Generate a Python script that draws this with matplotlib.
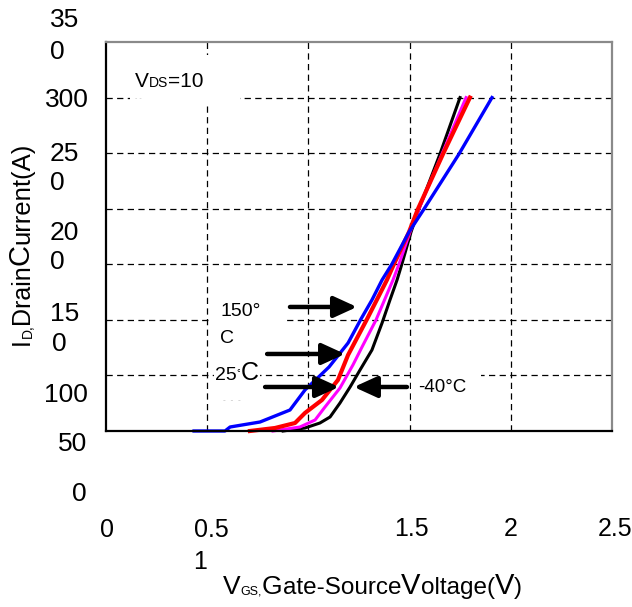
import matplotlib
matplotlib.use("Agg")
import matplotlib.pyplot as plt
from matplotlib.patches import Rectangle

plt.rcParams['font.family'] = ['Liberation Sans', 'DejaVu Sans']

# ─── Data ────────────────────────────────────────────────────────────────────
# transfer curves, ID (A) vs VGS (V), VDS = 10 V
vgs_150 = [0.435, 0.588, 0.613, 0.761, 0.909, 0.983, 1.102, 1.196, 1.260, 1.314,
           1.364, 1.413, 1.497, 1.571, 1.744, 1.907]
id_150 = [0, 0, 3.6, 8.1, 18.9, 36.9, 57.6, 79.2, 100.8, 117.9,
          135.9, 150.3, 179.0, 199.7, 249.2, 300]

vgs_25 = [0.711, 0.835, 0.934, 0.983, 1.067, 1.146, 1.196, 1.290, 1.388, 1.423,
          1.497, 1.541, 1.665, 1.798]
id_25 = [0, 2.7, 7.2, 16.2, 27.9, 45.9, 68.4, 100.8, 135.9, 150.3,
         179.0, 199.7, 249.2, 300]

vgs_mid = [0.825, 0.958, 1.033, 1.082, 1.156, 1.220, 1.265, 1.334, 1.418, 1.448,
           1.502, 1.546, 1.660, 1.779]
id_mid = [0, 3.6, 9.9, 21.6, 38.7, 59.4, 75.6, 99.9, 135.9, 150.3,
          179.0, 199.7, 249.2, 300]

vgs_m40 = [0.875, 0.983, 1.057, 1.107, 1.156, 1.206, 1.255, 1.314, 1.364, 1.403,
           1.438, 1.462, 1.507, 1.546, 1.650, 1.749]
id_m40 = [0, 2.7, 7.2, 12.6, 25.2, 39.6, 54.9, 72.9, 97.2, 117.9,
          135.9, 150.3, 179.0, 199.7, 249.2, 300]

x_grid = [0.5, 1.0, 1.5, 2.0]
y_grid = [50, 100, 150, 200, 250, 300]

# tick labels, as broken up in the original scan
y_labels = ['35', '0', '300', '25', '0', '20', '0', '15', '0', '100', '50', '0']
x_labels = ['0', '0.5', '1', '1.5', '2', '2.5']

# ─── Layout (pixels of the 632x607 picture) ──────────────────────────────────
W, H = 632, 607
y_label_pos = [(50, 27), (50, 59), (45, 107), (50, 161), (50, 190), (50, 240),
               (50, 269), (50, 321), (52, 351), (44, 402), (58, 451), (72, 501)]
x_label_pos = [(107, 537), (211, 537), (200, 569), (411, 536), (511, 536), (615, 536)]


def fx(px):
    return px / W


def fy(py):
    return 1 - py / H


def put_runs(fig, runs, x, y, rotation=0, **kw):
    """Draw text pieces of mixed sizes one after another (pixel coords)."""
    r = fig.canvas.get_renderer()
    for txt, size, shift in runs:
        if rotation == 0:
            t = fig.text(fx(x), fy(y - shift), txt, fontsize=size,
                         ha='left', va='baseline', **kw)
            x += t.get_window_extent(r).width
        else:
            t = fig.text(fx(x - shift), fy(y), txt, fontsize=size, rotation=90,
                         rotation_mode='anchor', ha='left', va='baseline', **kw)
            y -= t.get_window_extent(r).height


fig = plt.figure(figsize=(W / 100, H / 100), dpi=100)
ax = fig.add_axes([106 / W, 176 / H, 506 / W, 389 / H])
ax.set_xlim(0, 2.5)
ax.set_ylim(0, 350)

ax.set_xticks(x_grid)
ax.set_yticks(y_grid)
ax.set_xticklabels([])
ax.set_yticklabels([])
ax.tick_params(length=0)
ax.set_axisbelow(True)
ax.grid(True, color='black', lw=0.9, ls=(0, (5, 3.5)))

for side in ['left', 'bottom']:
    ax.spines[side].set_color('black')
    ax.spines[side].set_linewidth(1.6)
for side in ['top', 'right']:
    ax.spines[side].set_color('#8a8a8a')
    ax.spines[side].set_linewidth(1.6)

# white boxes behind the labels (they hide the grid in the original)
for (x0, y0, w, h) in [(0.12, 293, 0.54, 45), (0.52, 77, 0.355, 44), (1.507, 23, 0.346, 36)]:
    ax.add_patch(Rectangle((x0, y0), w, h, facecolor='white', edgecolor='none', zorder=1))

# ─── Curves ──────────────────────────────────────────────────────────────────
ax.plot(vgs_m40, id_m40, color='black', lw=2.2, zorder=2, clip_on=False)
ax.plot(vgs_mid, id_mid, color='#ff00ff', lw=2.2, zorder=2, clip_on=False)
ax.plot(vgs_25, id_25, color='#ff0000', lw=3.0, zorder=2, clip_on=False)
ax.plot(vgs_150, id_150, color='#0000ff', lw=2.4, zorder=2, clip_on=False)

# ─── Arrows ──────────────────────────────────────────────────────────────────
arrow_kw = dict(arrowstyle='-|>,head_length=0.7,head_width=0.32', color='black',
                lw=3.2, mutation_scale=20, shrinkA=0, shrinkB=0)
for start, end in [((0.909, 111.6), (1.240, 111.6)),
                   ((0.796, 69.3), (1.181, 69.3)),
                   ((0.786, 39.6), (1.151, 39.6)),
                   ((1.487, 39.6), (1.225, 39.6))]:
    ax.annotate('', xy=end, xytext=start, arrowprops=arrow_kw, zorder=3)

# ─── Text ────────────────────────────────────────────────────────────────────
for lab, (px, py) in zip(y_labels, y_label_pos):
    fig.text(fx(px), fy(py), lab, fontsize=19, ha='left', va='baseline')
for lab, (px, py) in zip(x_labels, x_label_pos):
    fig.text(fx(px), fy(py), lab, fontsize=18, ha='center', va='baseline')

# V_DS=10
put_runs(fig, [('V', 15, 0), ('DS', 10, 0), ('=10', 15, 0)], 135, 87)

# temperature labels
fig.text(fx(220), fy(316), '150°', fontsize=14, ha='left', va='baseline')
fig.text(fx(220), fy(343), 'C', fontsize=14, ha='left', va='baseline')
put_runs(fig, [('25', 14, 0), ('°', 8, 4), ('C', 18, 0)], 215, 380,
         bbox=dict(facecolor='white', edgecolor='none', pad=0.5))
fig.text(fx(418), fy(392), '-40°C', fontsize=13.5, ha='left', va='baseline')

# faint leftovers of the scan
fig.text(fx(135), fy(100), '- -', fontsize=5, color='#c4c4c4', ha='left', va='baseline')
fig.text(fx(223), fy(402), '-  -  -', fontsize=6, color='#bbbbbb', ha='left', va='baseline')

# axis titles
put_runs(fig, [('V', 19, 0), ('GS,', 9, 0), ('G', 19, 0), ('ate-Source', 17.5, 0),
               ('V', 21, 0), ('oltage(', 17.5, 0), ('V', 21, 0), (')', 17.5, 0)], 223, 594)
put_runs(fig, [('I', 18, 0), ('D,', 10, -3), ('Drain', 18, 0), ('C', 21, 0),
               ('urrent(A)', 18.5, 0)], 29, 345, rotation=90)

fig.savefig('out.png', dpi=100)
